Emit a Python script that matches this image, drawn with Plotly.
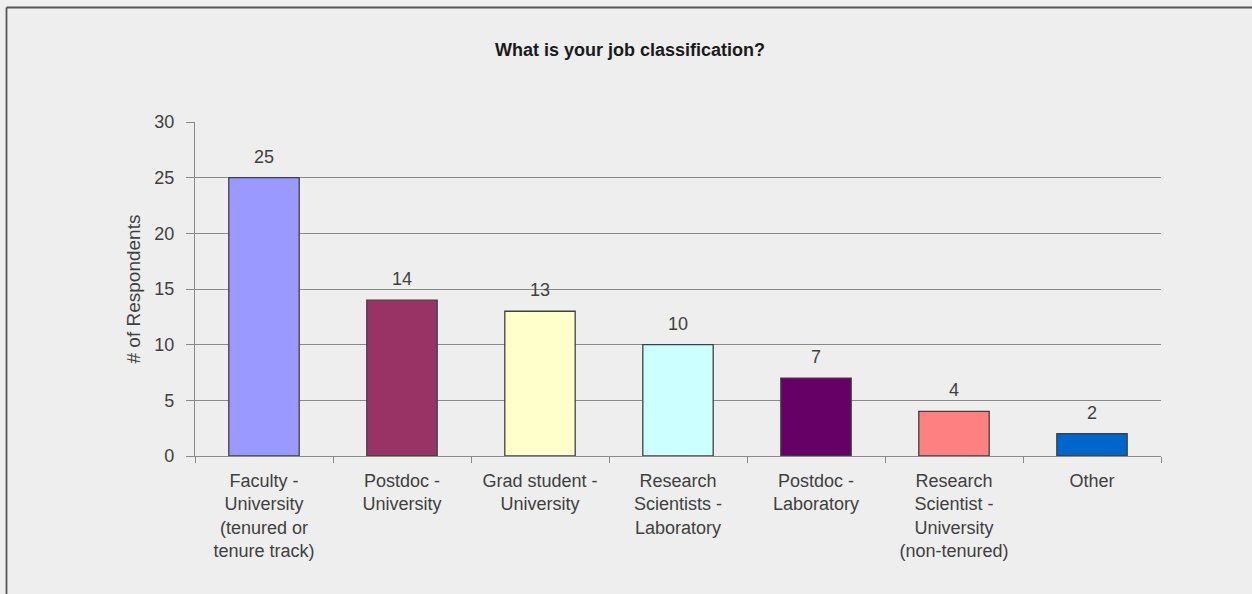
import plotly.graph_objects as go

# Survey responses by job classification
categories = [
    "Faculty -<br>University<br>(tenured or<br>tenure track)",
    "Postdoc -<br>University",
    "Grad student -<br>University",
    "Research<br>Scientists -<br>Laboratory",
    "Postdoc -<br>Laboratory",
    "Research<br>Scientist -<br>University<br>(non-tenured)",
    "Other",
]
respondents = [25, 14, 13, 10, 7, 4, 2]
bar_colors = ["#9999FF", "#993366", "#FFFFCC", "#CCFFFF", "#660066", "#FF8080", "#0066CC"]
y_ticks = [0, 5, 10, 15, 20, 25, 30]

W, H = 1252, 594
L, R, T, B = 195, 91, 122, 138
plot_w = W - L - R
plot_h = H - T - B

BG = "#EEEEEE"
GRID = "#8A8A8A"
TXT = "#404040"
FONT = "Liberation Sans, Arial, sans-serif"

fig = go.Figure()
fig.add_trace(go.Bar(
    x=categories,
    y=respondents,
    marker=dict(color=bar_colors, line=dict(color="#404040", width=1.3)),
    width=0.51,
    hoverinfo="skip",
))

# value labels above each bar
for c, v in zip(categories, respondents):
    fig.add_annotation(
        x=c, y=v, text=str(v), showarrow=False,
        yanchor="bottom", yshift=9,
        font=dict(family=FONT, size=18, color=TXT),
    )

# outer frame (top and left edges)
px = lambda p: (p - L) / plot_w
py = lambda p: (H - B - p) / plot_h
fig.add_shape(type="line", xref="paper", yref="paper",
              x0=px(6.5), x1=px(W + 5), y0=py(7.5), y1=py(7.5),
              line=dict(color="#555555", width=1.8))
fig.add_shape(type="line", xref="paper", yref="paper",
              x0=px(6.5), x1=px(6.5), y0=py(7.5), y1=py(H + 5),
              line=dict(color="#555555", width=1.8))

fig.update_layout(
    width=W, height=H,
    margin=dict(l=L, r=R, t=T, b=B),
    paper_bgcolor=BG, plot_bgcolor=BG,
    showlegend=False,
    bargap=0.49,
    title=dict(
        text="<b>What is your job classification?</b>",
        x=630 / W, xanchor="center", y=1 - 50 / H, yanchor="middle",
        font=dict(family=FONT, size=18, color="#1A1A1A"),
    ),
    font=dict(family=FONT, size=18, color=TXT),
)

fig.update_xaxes(
    type="category",
    showgrid=False,
    showline=True, linecolor=GRID, linewidth=1.3,
    ticks="outside", tickson="boundaries", ticklen=6, tickcolor=GRID, tickwidth=1.3,
    tickfont=dict(family=FONT, size=18, color=TXT),
    ticklabelstandoff=8,
    tickangle=0,
    range=[-0.5, 6.5],
)
fig.update_yaxes(
    range=[0, 30],
    tickvals=y_ticks,
    showgrid=True, gridcolor=GRID, gridwidth=1.3,
    showline=True, linecolor=GRID, linewidth=1.3,
    ticks="outside", ticklen=8, tickcolor=GRID, tickwidth=1.3,
    tickfont=dict(family=FONT, size=18, color=TXT),
    ticklabelstandoff=8,
    title=dict(text="# of Respondents", font=dict(family=FONT, size=19, color=TXT), standoff=8),
    zeroline=False,
)

fig.write_html("out.html")
